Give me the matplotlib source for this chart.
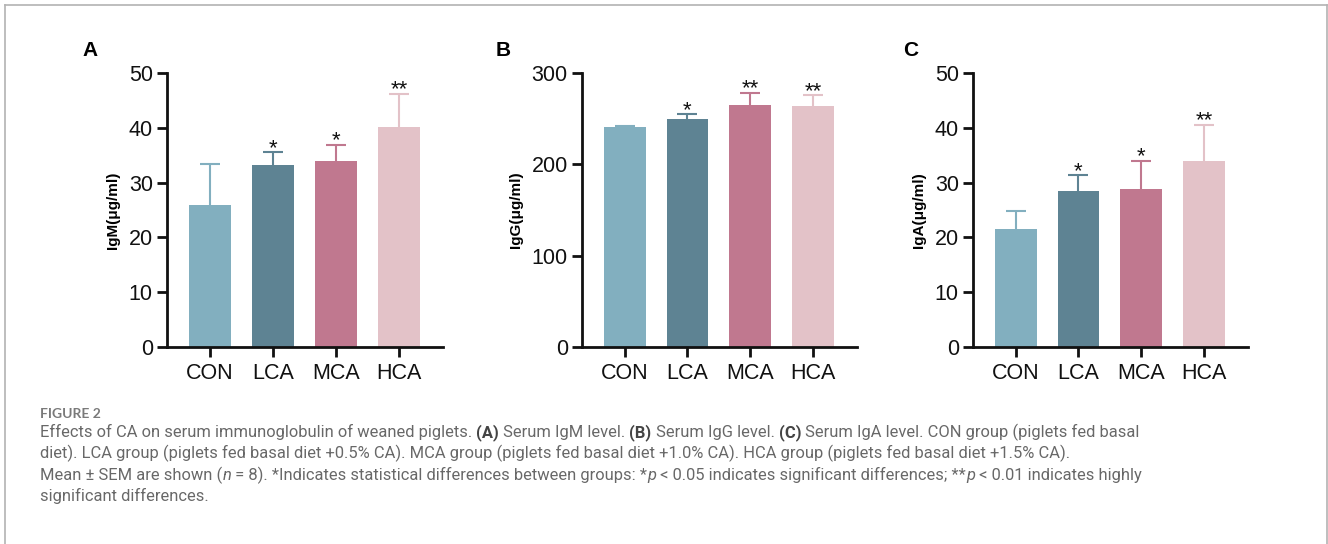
import matplotlib
matplotlib.use('Agg')
import matplotlib.pyplot as plt
from matplotlib.lines import Line2D

W, H = 1328, 544

# data (mean and SEM, upper error only)
groups = ['CON', 'LCA', 'MCA', 'HCA']
igm_mean = [26.0, 33.3, 33.9, 40.1]
igm_sem = [7.4, 2.2, 3.0, 6.1]
igg_mean = [240.5, 249.6, 265.0, 264.2]
igg_sem = [1.8, 5.1, 13.0, 11.3]
iga_mean = [21.6, 28.5, 28.8, 33.9]
iga_sem = [3.3, 2.8, 5.2, 6.7]
igm_stars = ['', '*', '*', '**']
igg_stars = ['', '*', '**', '**']
iga_stars = ['', '*', '*', '**']
colors = ['#82AFBF', '#5E8393', '#C0788F', '#E3C2C8']

plt.rcParams['font.family'] = ['Liberation Sans', 'DejaVu Sans']

fig = plt.figure(figsize=(W / 100, H / 100), dpi=100)


def px_rect(left, right, top, bottom):
    return [left / W, 1 - bottom / H, (right - left) / W, (bottom - top) / H]


panels = [
    ('A', 90, (167, 443, 73, 347), igm_mean, igm_sem, igm_stars, 'IgM(μg/ml)', 50, [0, 10, 20, 30, 40, 50]),
    ('B', 503, (582, 857, 73, 347), igg_mean, igg_sem, igg_stars, 'IgG(μg/ml)', 300, [0, 100, 200, 300]),
    ('C', 911, (973, 1248, 73, 347), iga_mean, iga_sem, iga_stars, 'IgA(μg/ml)', 50, [0, 10, 20, 30, 40, 50]),
]

for letter, lx, rect, mean, sem, stars, ylabel, ymax, yticks in panels:
    ax = fig.add_axes(px_rect(*rect))
    x = list(range(len(groups)))
    tops = [m + s for m, s in zip(mean, sem)]
    # upper error stems sit behind the bars, caps drawn as '_' markers
    for i in x:
        ax.errorbar(i, mean[i], yerr=[[0], [sem[i]]], color=colors[i],
                    elinewidth=1.5, capsize=0, zorder=1)
        ax.plot(i, tops[i], linestyle='none', marker='_', markersize=15,
                markeredgewidth=1.5, color=colors[i], zorder=1)
    ax.bar(x, mean, width=0.667, color=colors, zorder=2)
    for i in x:
        if stars[i]:
            ax.annotate(stars[i], (i, tops[i]), xytext=(0, -1),
                        textcoords='offset points', ha='center', va='baseline',
                        fontsize=16, color='#111111')
    ax.set_xlim(-0.68, 3.70)
    ax.set_ylim(0, ymax)
    ax.set_yticks(yticks)
    ax.set_xticks(x)
    ax.set_xticklabels(groups)
    for side in ['top', 'right']:
        ax.spines[side].set_visible(False)
    for side in ['left', 'bottom']:
        ax.spines[side].set_linewidth(2)
        ax.spines[side].set_color('#111111')
    ax.tick_params(axis='both', length=7.2, width=2, color='#111111',
                   labelsize=15.5, labelcolor='#111111')
    ax.tick_params(axis='x', pad=4)
    ax.tick_params(axis='y', pad=3)
    ax.set_ylabel(ylabel, fontsize=11, fontweight='bold', labelpad=6)
    fig.text(lx / W, 1 - 50 / H, letter, fontsize=15, fontweight='bold',
             ha='center', va='center')

# frame around the figure
frame = dict(color='#b3b3b3', linewidth=1.2, transform=fig.transFigure)
fig.add_artist(Line2D([4.5 / W, 4.5 / W], [0, 1 - 5 / H], **frame))
fig.add_artist(Line2D([4.5 / W, 1326.5 / W], [1 - 5 / H, 1 - 5 / H], **frame))
fig.add_artist(Line2D([1326.5 / W, 1326.5 / W], [0, 1 - 5 / H], **frame))

# caption, drawn in pieces so bold and italic bits can sit inline
renderer = fig.canvas.get_renderer()
cap_font = ['Roboto', 'DejaVu Sans']
cap_grey = '#686868'


def advance(s, **kw):
    t = fig.text(0, 0, '|' + s + '|', **kw)
    w = t.get_window_extent(renderer).width
    t.remove()
    t = fig.text(0, 0, '||', **kw)
    w0 = t.get_window_extent(renderer).width
    t.remove()
    return w - w0


def style(kind, size):
    kw = dict(fontsize=size, family=cap_font, color=cap_grey, fontweight='normal')
    if kind == 'b':
        kw.update(fontweight='bold', color='#444444')
    if kind == 'i':
        kw.update(fontstyle='italic')
    return kw


def line_width(parts, size):
    return sum(advance(s, **style(k, size)) for s, k in parts)


def draw_line(y, parts, size, x0=40):
    x = x0
    for s, k in parts:
        kw = style(k, size)
        fig.text(x / W, 1 - y / H, s, ha='left', va='baseline', **kw)
        x += advance(s, **kw)


lines = [
    [('Effects of CA on serum immunoglobulin of weaned piglets. ', 'r'), ('(A)', 'b'),
     (' Serum IgM level. ', 'r'), ('(B)', 'b'), (' Serum IgG level. ', 'r'), ('(C)', 'b'),
     (' Serum IgA level. CON group (piglets fed basal', 'r')],
    [('diet). LCA group (piglets fed basal diet +0.5% CA). MCA group (piglets fed basal diet '
      '+1.0% CA). HCA group (piglets fed basal diet +1.5% CA).', 'r')],
    [('Mean ± SEM are shown (', 'r'), ('n', 'i'),
     (' = 8). *Indicates statistical differences between groups: *', 'r'), ('p', 'i'),
     (' < 0.05 indicates significant differences; **', 'r'), ('p', 'i'),
     (' < 0.01 indicates highly', 'r')],
    [('significant differences.', 'r')],
]

cap_size = 10 * (1137 - 40) / line_width(lines[0], 10)
fig.text(40 / W, 1 - 418 / H, 'FIGURE 2', ha='left', va='baseline',
         fontsize=10, family=['Lato', 'DejaVu Sans'], fontweight='bold', color='#7a7a7a')
for y, parts in zip([437, 458.5, 480, 501], lines):
    draw_line(y, parts, cap_size)

fig.savefig('out.png', dpi=100)
